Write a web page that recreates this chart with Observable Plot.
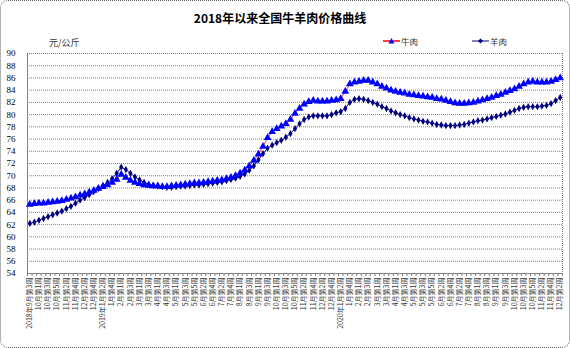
<!DOCTYPE html>
<html><head><meta charset="utf-8">
<script src="https://cdn.jsdelivr.net/npm/d3@7"></script>
<script src="https://cdn.jsdelivr.net/npm/@observablehq/plot@0.6"></script>
<style>
body{margin:0;background:#fff;}
#wrap{position:relative;width:570px;height:348px;overflow:hidden;font-family:"Noto Sans CJK SC",sans-serif;background:#fff;}
#border{position:absolute;left:0;top:0;width:570px;height:348px;box-sizing:border-box;border:1px dotted #666;border-radius:8px;pointer-events:none;}
#title{position:absolute;left:0;width:560px;top:9px;text-align:center;font-weight:bold;font-size:12px;color:#000;}
#unit{position:absolute;left:49px;top:36px;font-size:9px;color:#333;}
.lg{position:absolute;top:35px;font-size:8.5px;color:#333;display:flex;align-items:center;}
#chart{position:absolute;left:0;top:40px;}
</style></head>
<body><div id="wrap">
<div id="title">2018年以来全国牛羊肉价格曲线</div>
<div id="unit">元/公斤</div>
<div class="lg" style="left:383px"><svg width="18" height="8"><line x1="0" y1="4" x2="17" y2="4" stroke="#FF0000" stroke-width="1.5"/><path d="M8.5,1 L11.5,6.5 L5.5,6.5Z" fill="#0000FF"/></svg><span>牛肉</span></div>
<div class="lg" style="left:472px"><svg width="18" height="8"><line x1="0" y1="4" x2="17" y2="4" stroke="#000080" stroke-width="1"/><path d="M8.5,1.5 L11,4 L8.5,6.5 L6,4Z" fill="#000080"/></svg><span>羊肉</span></div>
<div id="chart"></div>
<div id="border"></div>
</div>
<script>
// weeks per month: [year, month, first week, last week]
const monthWeeks = [
  [2018,9,3,4],[2018,10,1,5],[2018,11,1,4],[2018,12,1,4],
  [2019,1,1,5],[2019,2,1,4],[2019,3,1,4],[2019,4,1,4],[2019,5,1,5],[2019,6,1,4],
  [2019,7,1,5],[2019,8,1,4],[2019,9,1,4],[2019,10,1,5],[2019,11,1,4],[2019,12,1,4],
  [2020,1,1,5],[2020,2,1,4],[2020,3,1,4],[2020,4,1,4],[2020,5,1,5],[2020,6,1,4],
  [2020,7,1,5],[2020,8,1,4],[2020,9,1,4],[2020,10,1,5],[2020,11,1,4],[2020,12,1,2]
];
// 牛肉 weekly price (元/公斤)
const beef = [
  65.3,65.4,65.5,65.5,65.6,65.7,65.8,65.9,66.1,66.3,
  66.5,66.8,67.0,67.3,67.6,67.9,68.2,68.5,68.9,69.4,
  70.2,69.7,69.2,68.9,68.7,68.5,68.4,68.3,68.3,68.2,
  68.2,68.3,68.4,68.5,68.6,68.7,68.8,68.8,68.9,69.0,
  69.1,69.2,69.3,69.5,69.7,70.0,70.4,70.9,71.6,72.5,
  73.5,74.8,76.2,77.2,77.7,78.1,78.5,79.2,80.2,81.0,
  81.7,82.1,82.3,82.2,82.2,82.2,82.3,82.4,82.6,83.8,
  85.0,85.3,85.4,85.6,85.6,85.3,85.0,84.6,84.3,84.0,
  83.8,83.6,83.5,83.3,83.2,83.1,83.0,82.9,82.8,82.6,
  82.5,82.3,82.1,81.9,81.8,81.8,81.9,82.0,82.2,82.4,
  82.6,82.8,83.1,83.3,83.6,83.9,84.2,84.6,85.0,85.3,
  85.4,85.3,85.3,85.3,85.4,85.7,86.0
];
// 羊肉 weekly price (元/公斤)
const mutton = [
  62.2,62.4,62.7,63.0,63.3,63.6,63.9,64.2,64.6,65.0,
  65.5,66.0,66.4,66.9,67.4,67.9,68.4,68.9,69.5,70.4,
  71.4,71.0,70.4,69.8,69.3,68.9,68.6,68.4,68.3,68.2,
  68.1,68.1,68.2,68.3,68.3,68.4,68.5,68.5,68.6,68.7,
  68.8,68.9,69.0,69.2,69.4,69.6,69.9,70.3,70.9,71.6,
  72.6,73.6,74.5,75.0,75.4,75.8,76.3,76.9,77.7,78.5,
  79.2,79.6,79.8,79.8,79.8,79.8,80.0,80.3,80.5,81.0,
  82.0,82.5,82.6,82.5,82.3,82.0,81.7,81.3,81.0,80.6,
  80.3,80.0,79.8,79.5,79.3,79.1,78.9,78.8,78.6,78.4,
  78.3,78.2,78.2,78.2,78.3,78.4,78.6,78.8,79.0,79.1,
  79.3,79.5,79.7,79.9,80.1,80.4,80.7,81.0,81.2,81.3,
  81.3,81.3,81.4,81.5,81.8,82.3,82.8
];
const yTicks = [54,56,58,60,62,64,66,68,70,72,74,76,78,80,82,84,86,88,90];

// build week categories
const weeks = [];
for (const [yr, m, w0, w1] of monthWeeks) for (let w = w0; w <= w1; w++) weeks.push({yr, m, w});
const n = beef.length;
const data = beef.map((b, i) => ({i, beef: b, mutton: mutton[i]}));
const labelIdx = d3.range(0, n, 2);
const seenYear = new Set();
const labelText = {};
for (const i of labelIdx) {
  const k = weeks[i];
  let s = `${k.m}月第${k.w}周`;
  if (!seenYear.has(k.yr)) { seenYear.add(k.yr); s = `${k.yr}年${s}`; }
  labelText[i] = s;
}
const bounds = d3.range(-0.5, n, 1);

const chart = Plot.plot({
  width: 570, height: 308,
  marginTop: 13, marginBottom: 75, marginLeft: 27, marginRight: 8,
  x: {domain: [-0.5, n - 0.5]},
  y: {domain: [54, 90]},
  style: {fontFamily: "'Noto Sans CJK SC', sans-serif", color: "#000", background: "transparent"},
  marks: [
    Plot.gridY(yTicks, {stroke: "#808080", strokeOpacity: 1, strokeDasharray: "1,1"}),
    Plot.ruleX([n - 0.5], {stroke: "#808080", strokeDasharray: "1,1"}),
    Plot.ruleX([-0.5], {stroke: "#808080"}),
    Plot.ruleY([54], {stroke: "#808080"}),
    Plot.axisY(yTicks, {tickSize: 0, tickPadding: 12, fontFamily: "'Liberation Serif', serif", fontSize: 9, label: null}),
    Plot.axisX(bounds, {tickSize: 3, tickFormat: () => "", stroke: "#808080", label: null}),
    Plot.axisX(labelIdx, {tickSize: 0, tickPadding: 4, tickRotate: -90, tickFormat: i => labelText[i], fontSize: 7, fill: "#333", label: null}),
    Plot.line(data, {x: "i", y: "mutton", stroke: "#000080", strokeWidth: 1}),
    Plot.dot(data, {x: "i", y: "mutton", symbol: "diamond", fill: "#000080", r: 2.2}),
    Plot.line(data, {x: "i", y: "beef", stroke: "#FF0000", strokeWidth: 0.8}),
    Plot.dot(data, {x: "i", y: "beef", symbol: "triangle", fill: "#0000FF", r: 2.9})
  ]
});
document.getElementById("chart").appendChild(chart);
</script>
</body></html>
